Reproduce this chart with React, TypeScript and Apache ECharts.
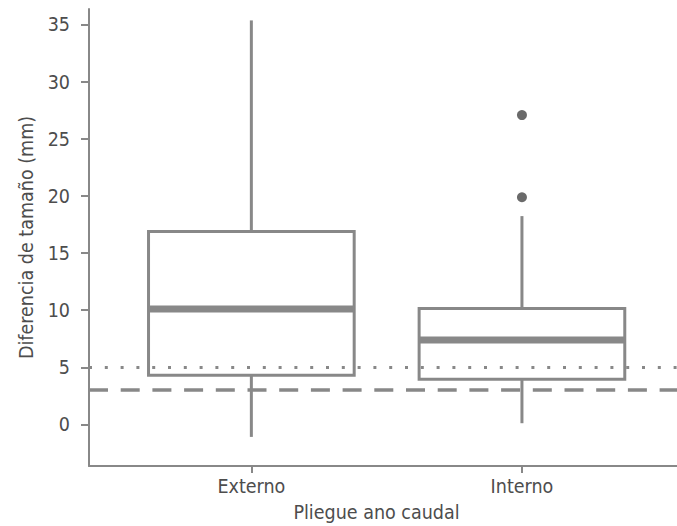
import React, { useEffect, useRef } from "react";
import * as echarts from "echarts";

const categories = ["Externo", "Interno"];
// [whiskerLow, q1, median, q3, whiskerHigh]
const boxStats = [
  [-1.1, 4.3, 10.1, 16.9, 35.4],
  [0.1, 3.95, 7.4, 10.15, 18.25],
];
// [categoryIndex, value]
const outliers = [
  [1, 27.1],
  [1, 19.9],
];
const yTicks = [0, 5, 10, 15, 20, 25, 30, 35];
const dottedRef = 5;
const dashedRef = 3;

const FONT = "'DejaVu Sans Condensed', 'Liberation Sans', sans-serif";
const FS = 19.5;
const TEXT = "#4d4d4d";
const GRAY = "#888888";

export default function App() {
  const ref = useRef<HTMLDivElement>(null);
  useEffect(() => {
    if (!ref.current) return;
    const chart = echarts.init(ref.current, null, { renderer: "svg" });
    const boxData = boxStats.map((s, i) => [i + 1, ...s]);
    chart.setOption({
      animation: false,
      grid: {
        left: 89,
        right: 0,
        top: 9,
        bottom: 60,
        containLabel: false,
        outerBoundsMode: "none",
      },
      xAxis: {
        type: "value",
        min: 0.4,
        max: 2.573,
        name: "Pliegue ano caudal",
        nameLocation: "middle",
        nameGap: 36,
        nameTextStyle: { fontFamily: FONT, fontSize: FS, color: TEXT, padding: [0, 13, 0, 0] },
        axisLine: { show: true, onZero: false, lineStyle: { color: GRAY, width: 2 } },
        axisTick: { show: true, length: 7, lineStyle: { color: GRAY, width: 2 }, customValues: [1, 2] },
        axisLabel: {
          fontFamily: FONT,
          fontSize: FS,
          color: TEXT,
          margin: 10,
          customValues: [1, 2],
          formatter: (v: number) => categories[Math.round(v) - 1] ?? "",
        },
        splitLine: { show: false },
      },
      yAxis: {
        type: "value",
        min: -3.65,
        max: 36.4,
        name: "Diferencia de tamaño (mm)",
        nameLocation: "middle",
        nameGap: 52,
        nameTextStyle: { fontFamily: FONT, fontSize: FS, color: TEXT },
        axisLine: { show: true, onZero: false, lineStyle: { color: GRAY, width: 2 } },
        axisTick: { show: true, length: 8, lineStyle: { color: GRAY, width: 2 }, customValues: yTicks },
        axisLabel: {
          fontFamily: FONT,
          fontSize: FS,
          color: TEXT,
          margin: 19,
          customValues: yTicks,
        },
        splitLine: { show: false },
      },
      series: [
        {
          type: "custom",
          data: boxData,
          z: 2,
          renderItem: (params: any, api: any) => {
            const x = api.value(0);
            const lo = api.coord([x, api.value(1)]);
            const q1 = api.coord([x, api.value(2)]);
            const med = api.coord([x, api.value(3)]);
            const q3 = api.coord([x, api.value(4)]);
            const hi = api.coord([x, api.value(5)]);
            const w = api.size([0.76, 0])[0];
            const cx = lo[0];
            const stroke = { stroke: GRAY, lineWidth: 3, fill: null };
            return {
              type: "group",
              children: [
                { type: "line", shape: { x1: cx, y1: q3[1], x2: cx, y2: hi[1] }, style: stroke },
                { type: "line", shape: { x1: cx, y1: q1[1], x2: cx, y2: lo[1] }, style: stroke },
                {
                  type: "rect",
                  shape: { x: cx - w / 2, y: q3[1], width: w, height: q1[1] - q3[1] },
                  style: { stroke: GRAY, lineWidth: 3, fill: "#ffffff" },
                },
                {
                  type: "line",
                  shape: { x1: cx - w / 2, y1: med[1], x2: cx + w / 2, y2: med[1] },
                  style: { stroke: GRAY, lineWidth: 7 },
                },
              ],
            };
          },
        },
        {
          type: "scatter",
          data: outliers.map((o) => [o[0] + 1, o[1]]),
          symbol: "circle",
          symbolSize: 10,
          itemStyle: { color: "#454545" },
          z: 3,
        },
        {
          type: "line",
          data: [],
          z: 4,
          markLine: {
            silent: true,
            symbol: "none",
            label: { show: false },
            data: [
              { yAxis: dottedRef, lineStyle: { type: [3, 12.8], width: 3, color: GRAY } },
              { yAxis: dashedRef, lineStyle: { type: [19, 12.7], width: 3.5, color: GRAY } },
            ],
          },
        },
      ],
    });
    return () => chart.dispose();
  }, []);
  return <div ref={ref} style={{ width: 677, height: 526, position: "absolute", left: 0, top: 0 }} />;
}
